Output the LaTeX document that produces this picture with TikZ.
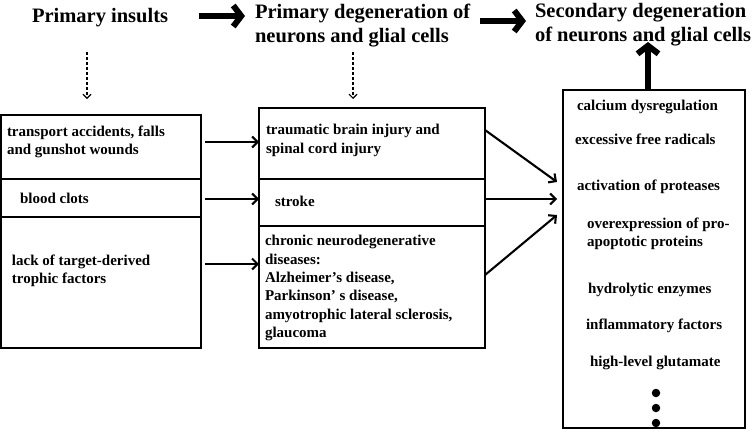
\documentclass[tikz,border=0pt]{standalone}
\usepackage{fontspec}
\setmainfont{Liberation Serif}
\usetikzlibrary{arrows.meta}
\begin{document}
\begin{tikzpicture}[x=1pt,y=-1pt,
  cell/.style={draw, line width=2.3pt, rectangle, inner sep=0pt, outer sep=0pt},
  txt/.style={inner sep=0pt, outer sep=0pt, align=left, font=\fontsize{15}{18.3}\selectfont\bfseries},
  ttl/.style={inner sep=0pt, outer sep=0pt, align=left, font=\fontsize{20.5}{24.5}\selectfont\bfseries},
  arr/.style={line width=2.1pt, -{Straight Barb[length=5.5pt,width=11pt]}},
  bigarr/.style={line width=6pt, -{Straight Barb[length=8pt,width=21pt]}},
  darr/.style={line width=1.1pt, dash pattern=on 3pt off 2pt, -{Straight Barb[length=4pt,width=8pt]}},
  dot/.style={circle, fill, inner sep=0pt, minimum size=8.5pt}]
\useasboundingbox[fill=white] (0,0) rectangle (755,439);

% titles
\node[ttl, anchor=base west] (t1) at (32,23) {Primary insults};
\node[ttl, anchor=north west] (t2) at (255,4) {Primary degeneration of\\neurons and glial cells};
\node[ttl, anchor=north west] (t3) at (535,3) {Secondary degeneration\\of neurons and glial cells};

% left column
\node[cell, minimum width=200pt, minimum height=64pt] (l1) at (101,147) {};
\node[cell, minimum width=200pt, minimum height=38pt] (l2) at (101,198) {};
\node[cell, minimum width=200pt, minimum height=131pt] (l3) at (101,282.5) {};
\node[txt, anchor=north west] (l1t) at (7,125.5) {transport accidents, falls\\and gunshot wounds};
\node[txt, anchor=base west] (l2t) at (20,203) {blood clots};
\node[txt, anchor=north west] (l3t) at (12,254.5) {lack of target-derived\\trophic factors};

% middle column
\node[cell, minimum width=226pt, minimum height=71pt] (m1) at (372,143.5) {};
\node[cell, minimum width=226pt, minimum height=47pt] (m2) at (372,202.5) {};
\node[cell, minimum width=226pt, minimum height=122pt] (m3) at (372,287) {};
\node[txt, anchor=north west] (m1t) at (266,124.5) {traumatic brain injury and\\spinal cord injury};
\node[txt, anchor=base west] (m2t) at (275,206) {stroke};
\node[txt, anchor=north west] (m3t) at (265,235.5) {chronic neurodegenerative\\diseases:\\Alzheimer’s disease,\\Parkinson’ s disease,\\amyotrophic lateral sclerosis,\\glaucoma};

% right column
\node[cell, minimum width=182pt, minimum height=338pt] (r) at (654,259) {};
\node[txt, anchor=base west] (r1) at (577,110) {calcium dysregulation};
\node[txt, anchor=base west] (r2) at (575,144) {excessive free radicals};
\node[txt, anchor=base west] (r3) at (577,190) {activation of proteases};
\node[txt, anchor=north west] (r4) at (587,217.5) {overexpression of pro-\\apoptotic proteins};
\node[txt, anchor=base west] (r5) at (588,293) {hydrolytic enzymes};
\node[txt, anchor=base west] (r6) at (586,329) {inflammatory factors};
\node[txt, anchor=base west] (r7) at (590,366) {high-level glutamate};
\node[dot] (dot1) at (656,393) {};
\node[dot] (dot2) at (656,408) {};
\node[dot] (dot3) at (656,423) {};

% big arrows
\coordinate (a1s) at (199,16);
\coordinate (a1e) at (245,16);
\coordinate (a2s) at (480,21);
\coordinate (a2e) at (526,21);
\coordinate (a3e) at (648,42);
\draw[bigarr] (a1s) -- (a1e);
\draw[bigarr] (a2s) -- (a2e);
\draw[bigarr] ([xshift=-6pt]r.north) -- (a3e);

% dashed arrows
\coordinate (d1s) at (87,52);
\coordinate (d1e) at (87,99);
\coordinate (d2s) at (353,52);
\coordinate (d2e) at (353,99);
\draw[darr] (d1s) -- (d1e);
\draw[darr] (d2s) -- (d2e);

% left -> middle
\draw[arr, shorten <=4pt] ([yshift=5pt]l1.east) -- ([yshift=1.5pt]m1.west);
\draw[arr, shorten <=4pt] ([yshift=-1pt]l2.east) -- ([yshift=3.5pt]m2.west);
\draw[arr, shorten <=4pt] ([yshift=18.5pt]l3.east) -- ([yshift=23pt]m3.west);

% middle -> right
\draw[arr] ([yshift=13.5pt]m1.east) -- ([xshift=-6pt,yshift=77pt]r.west);
\draw[arr] ([yshift=3.5pt]m2.east) -- ([xshift=-6pt,yshift=60pt]r.west);
\draw[arr] ([yshift=12pt]m3.east) -- ([xshift=-6pt,yshift=44pt]r.west);
\end{tikzpicture}
\end{document}
